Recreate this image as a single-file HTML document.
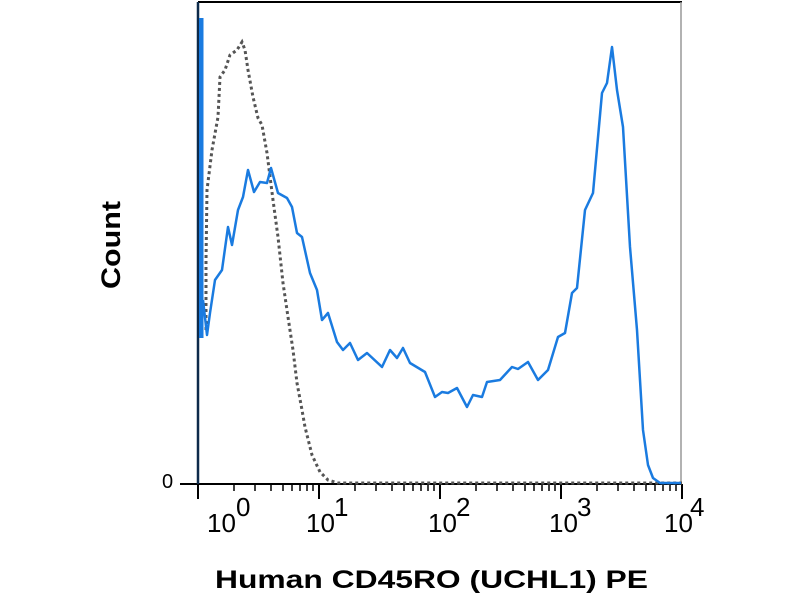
<!DOCTYPE html>
<html><head><style>body{margin:0;background:#fff}svg{display:block}</style></head>
<body>
<svg width="800" height="600" viewBox="0 0 800 600" xmlns="http://www.w3.org/2000/svg" font-family="Liberation Sans, sans-serif">
<rect width="800" height="600" fill="#fff"/>
<line x1="198" y1="2" x2="682" y2="2" stroke="#000" stroke-width="2"/>
<line x1="681" y1="2" x2="681" y2="484" stroke="#999" stroke-width="1.5"/>
<line x1="180" y1="484" x2="682" y2="484" stroke="#000" stroke-width="2"/>
<g stroke="#000" stroke-width="2">
<line x1="198" y1="484" x2="198" y2="499"/><line x1="319" y1="484" x2="319" y2="499"/><line x1="440" y1="484" x2="440" y2="499"/><line x1="561" y1="484" x2="561" y2="499"/><line x1="682" y1="484" x2="682" y2="499"/>
</g>
<g stroke="#000" stroke-width="1.5">
<path d="M234 484v7M255 484v7M271 484v7M283 484v7M292 484v7M300 484v7M307 484v7M313 484v7
M355 484v7M376 484v7M392 484v7M404 484v7M413 484v7M421 484v7M428 484v7M434 484v7
M476 484v7M497 484v7M513 484v7M525 484v7M534 484v7M542 484v7M549 484v7M555 484v7
M597 484v7M618 484v7M634 484v7M646 484v7M655 484v7M663 484v7M670 484v7M676 484v7"/>
</g>
<g font-size="26" fill="#000">
<text x="207" y="532">10</text><text x="236" y="516">0</text>
<text x="306" y="532">10</text><text x="334" y="516">1</text>
<text x="428" y="532">10</text><text x="456" y="516">2</text>
<text x="549" y="532">10</text><text x="577" y="516">3</text>
<text x="664" y="532">10</text><text x="690" y="516">4</text>
<text x="162" y="488" font-size="20">0</text>
</g>
<text transform="translate(120,289) rotate(-90)" font-size="27" font-weight="bold" textLength="88" lengthAdjust="spacingAndGlyphs">Count</text>
<text x="215" y="588" font-size="25" font-weight="bold" textLength="433" lengthAdjust="spacingAndGlyphs">Human CD45RO (UCHL1) PE</text>
<polyline fill="none" stroke="#555" stroke-width="3" stroke-dasharray="3,3" points="206,330 206,260 207,190 212,150 218,117 220,77 225,70 230,55 237,50 242,42 245,50 248,70 253,97 258,118 262,125 267,153 273,200 278,237 283,283 288,317 293,350 297,383 302,410 305,427 312,455 320,472 328,480 338,483 682,483"/>
<line x1="198" y1="2" x2="198" y2="484" stroke="#0d2a4a" stroke-width="2.5"/>
<rect x="199" y="18" width="4.5" height="320" fill="#1a7be0"/>
<polyline fill="none" stroke="#1a7be0" stroke-width="2.5" stroke-linejoin="round" points="203,300 207,335 210,313 215,280 222,270 228,227 232,245 238,210 243,197 248,170 254,192 260,182 267,183 271,168 278,193 287,198 292,207 297,233 302,237 310,273 317,290 322,320 328,313 337,342 343,350 350,343 358,360 367,353 382,367 390,350 397,358 403,348 410,363 425,372 435,397 442,392 448,393 457,388 467,407 473,395 482,397 487,382 500,380 512,367 518,369 528,362 538,380 548,370 558,337 565,333 572,293 577,288 585,210 593,193 602,93 607,83 612,47 617,90 623,127 630,247 637,330 643,430 648,465 653,478 660,483 681,483"/>
</svg>
</body></html>
